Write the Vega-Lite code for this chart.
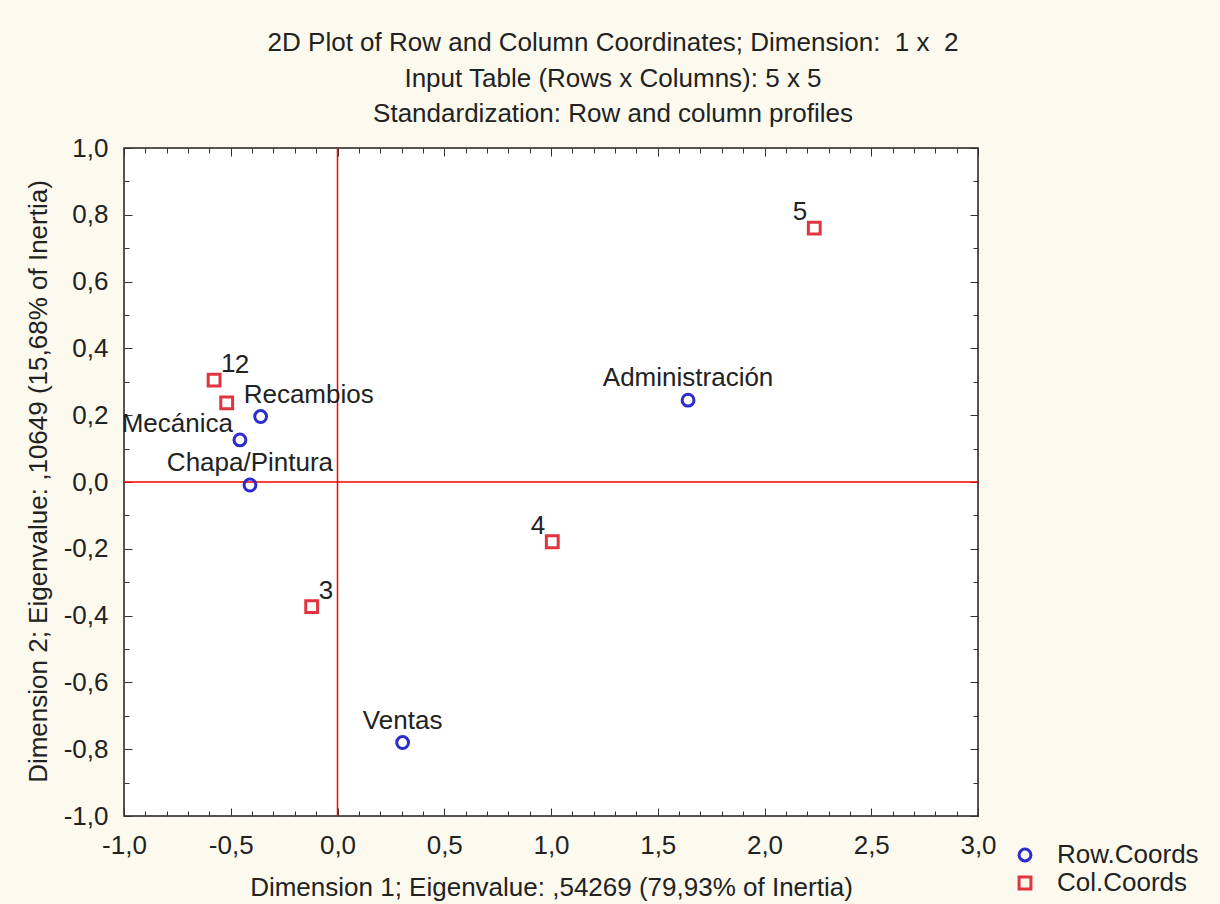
{
  "$schema": "https://vega.github.io/schema/vega-lite/v6.json",
  "width": 854,
  "height": 668,
  "autosize": {"type": "none"},
  "padding": {"left": 124, "top": 148, "right": 242, "bottom": 88},
  "background": "#fcfaee",
  "config": {
    "font": "Liberation Sans",
    "view": {"fill": "#ffffff", "stroke": "#1e1e1e", "strokeWidth": 1.5},
    "axis": {
      "labelFont": "Liberation Sans",
      "titleFont": "Liberation Sans",
      "labelColor": "#222222",
      "titleColor": "#222222",
      "labelFontSize": 26,
      "titleFontSize": 26,
      "titleFontWeight": "normal",
      "domain": false,
      "tickColor": "#333333",
      "tickWidth": 1,
      "gridColor": "#d4d4d4",
      "gridWidth": 1,
      "labelOverlap": false,
      "labelFlush": false
    },
    "legend": {
      "orient": "none",
      "legendX": 888,
      "legendY": 694,
      "labelFont": "Liberation Sans",
      "labelFontSize": 26,
      "labelColor": "#222222",
      "symbolSize": 140,
      "symbolStrokeWidth": 3,
      "labelOffset": 19,
      "rowPadding": 2,
      "padding": 0
    }
  },
  "title": {
    "text": [
      "2D Plot of Row and Column Coordinates; Dimension:\u00a0 1 x\u00a0 2",
      "Input Table (Rows x Columns): 5 x 5",
      "Standardization: Row and column profiles"
    ],
    "font": "Liberation Sans",
    "fontSize": 26,
    "fontWeight": "normal",
    "color": "#222222",
    "lineHeight": 35.5,
    "anchor": "middle",
    "dx": 62,
    "offset": 8
  },
  "datasets": {
    "pts": [
      {"name": "Mecánica", "type": "Row.Coords", "dim1": -0.457, "dim2": 0.126},
      {"name": "Chapa/Pintura", "type": "Row.Coords", "dim1": -0.41, "dim2": -0.009},
      {"name": "Recambios", "type": "Row.Coords", "dim1": -0.36, "dim2": 0.196},
      {"name": "Ventas", "type": "Row.Coords", "dim1": 0.305, "dim2": -0.78},
      {"name": "Administración", "type": "Row.Coords", "dim1": 1.642, "dim2": 0.245},
      {"name": "1", "type": "Col.Coords", "dim1": -0.578, "dim2": 0.305},
      {"name": "2", "type": "Col.Coords", "dim1": -0.519, "dim2": 0.237},
      {"name": "3", "type": "Col.Coords", "dim1": -0.121, "dim2": -0.373},
      {"name": "4", "type": "Col.Coords", "dim1": 1.006, "dim2": -0.179},
      {"name": "5", "type": "Col.Coords", "dim1": 2.233, "dim2": 0.76}
    ],
    "zero": [{"v": 0}]
  },
  "layer": [
    {
      "data": {"name": "pts"},
      "mark": {"type": "point", "opacity": 0},
      "encoding": {
        "x": {
          "field": "dim1", "type": "quantitative",
          "scale": {"domain": [-1, 3], "nice": false, "zero": false},
          "axis": {
            "orient": "top", "title": null, "labels": false, "grid": false,
            "values": [-1,-0.9,-0.8,-0.7,-0.6,-0.5,-0.4,-0.3,-0.2,-0.1,0,0.1,0.2,0.3,0.4,0.5,0.6,0.7,0.8,0.9,1,1.1,1.2,1.3,1.4,1.5,1.6,1.7,1.8,1.9,2,2.1,2.2,2.3,2.4,2.5,2.6,2.7,2.8,2.9,3],
            "tickSize": {"condition": {"test": "abs(datum.value*2 - round(datum.value*2)) < 0.001", "value": -8}, "value": -5}
          }
        },
        "y": {
          "field": "dim2", "type": "quantitative",
          "scale": {"domain": [-1, 1], "nice": false, "zero": false},
          "axis": {
            "orient": "right", "title": null, "labels": false, "grid": false,
            "values": [-1,-0.9,-0.8,-0.7,-0.6,-0.5,-0.4,-0.3,-0.2,-0.1,0,0.1,0.2,0.3,0.4,0.5,0.6,0.7,0.8,0.9,1],
            "tickSize": {"condition": {"test": "abs(datum.value*5 - round(datum.value*5)) < 0.001", "value": -8}, "value": -5}
          }
        }
      }
    },
    {
      "data": {"name": "zero"},
      "mark": {"type": "rule", "color": "#ff0000", "strokeWidth": 1.5},
      "encoding": {"x": {"field": "v", "type": "quantitative", "axis": null}}
    },
    {
      "data": {"name": "zero"},
      "mark": {"type": "rule", "color": "#ff0000", "strokeWidth": 1.5},
      "encoding": {"y": {"field": "v", "type": "quantitative", "axis": null}}
    },
    {
      "data": {"name": "pts"},
      "mark": {"type": "point", "filled": false, "size": 140, "strokeWidth": 3, "opacity": 1},
      "encoding": {
        "x": {
          "field": "dim1", "type": "quantitative",
          "axis": {
            "orient": "bottom",
            "title": "Dimension 1; Eigenvalue: ,54269 (79,93% of Inertia)",
            "titleX": 427, "titleY": 79, "titleBaseline": "alphabetic", "titleAlign": "center",
            "values": [-1,-0.9,-0.8,-0.7,-0.6,-0.5,-0.4,-0.3,-0.2,-0.1,0,0.1,0.2,0.3,0.4,0.5,0.6,0.7,0.8,0.9,1,1.1,1.2,1.3,1.4,1.5,1.6,1.7,1.8,1.9,2,2.1,2.2,2.3,2.4,2.5,2.6,2.7,2.8,2.9,3],
            "labelExpr": "abs(datum.value*2 - round(datum.value*2)) < 0.001 ? (datum.value < -0.001 ? '-' : '') + replace(format(abs(datum.value), '.1f'), '.', ',') : ''",
            "labelBaseline": "alphabetic",
            "labelPadding": 45,
            "tickSize": {"condition": {"test": "abs(datum.value*2 - round(datum.value*2)) < 0.001", "value": -8}, "value": -5},
            "gridOpacity": {"condition": {"test": "abs(datum.value*2 - round(datum.value*2)) < 0.001", "value": 1}, "value": 0}
          }
        },
        "y": {
          "field": "dim2", "type": "quantitative",
          "axis": {
            "orient": "left",
            "title": "Dimension 2; Eigenvalue: ,10649 (15,68% of Inertia)",
            "titleX": -78, "titleY": 333, "titleBaseline": "alphabetic", "titleAlign": "center", "titleAngle": -90,
            "values": [-1,-0.9,-0.8,-0.7,-0.6,-0.5,-0.4,-0.3,-0.2,-0.1,0,0.1,0.2,0.3,0.4,0.5,0.6,0.7,0.8,0.9,1],
            "labelExpr": "abs(datum.value*5 - round(datum.value*5)) < 0.001 ? (datum.value < -0.001 ? '-' : '') + replace(format(abs(datum.value), '.1f'), '.', ',') : ''",
            "labelBaseline": "middle",
            "labelPadding": 24,
            "tickSize": {"condition": {"test": "abs(datum.value*5 - round(datum.value*5)) < 0.001", "value": -8}, "value": -5},
            "gridOpacity": {"condition": {"test": "abs(datum.value*5 - round(datum.value*5)) < 0.001", "value": 1}, "value": 0}
          }
        },
        "color": {
          "field": "type", "type": "nominal",
          "scale": {"domain": ["Row.Coords", "Col.Coords"], "range": ["#2b2bcf", "#e03440"]},
          "legend": {"title": null}
        },
        "shape": {
          "field": "type", "type": "nominal",
          "scale": {"domain": ["Row.Coords", "Col.Coords"], "range": ["circle", "square"]},
          "legend": {"title": null}
        }
      }
    },
    {
      "data": {"name": "pts"},
      "transform": [{"filter": {"field": "name", "oneOf": ["Chapa/Pintura", "Administración", "Ventas"]}}],
      "mark": {"type": "text", "font": "Liberation Sans", "fontSize": 26, "color": "#222222", "align": "center", "baseline": "middle", "dy": -22},
      "encoding": {
        "x": {"field": "dim1", "type": "quantitative", "axis": null},
        "y": {"field": "dim2", "type": "quantitative", "axis": null},
        "text": {"field": "name"}
      }
    },
    {
      "data": {"name": "pts"},
      "transform": [{"filter": {"field": "name", "oneOf": ["Mecánica", "4", "5"]}}],
      "mark": {"type": "text", "font": "Liberation Sans", "fontSize": 26, "color": "#222222", "align": "right", "baseline": "middle", "dx": -7, "dy": -16},
      "encoding": {
        "x": {"field": "dim1", "type": "quantitative", "axis": null},
        "y": {"field": "dim2", "type": "quantitative", "axis": null},
        "text": {"field": "name"}
      }
    },
    {
      "data": {"name": "pts"},
      "transform": [{"filter": {"field": "name", "oneOf": ["1", "3"]}}],
      "mark": {"type": "text", "font": "Liberation Sans", "fontSize": 26, "color": "#222222", "align": "left", "baseline": "middle", "dx": 7, "dy": -16},
      "encoding": {
        "x": {"field": "dim1", "type": "quantitative", "axis": null},
        "y": {"field": "dim2", "type": "quantitative", "axis": null},
        "text": {"field": "name"}
      }
    },
    {
      "data": {"name": "pts"},
      "transform": [{"filter": {"field": "name", "equal": "2"}}],
      "mark": {"type": "text", "font": "Liberation Sans", "fontSize": 26, "color": "#222222", "align": "left", "baseline": "middle", "dx": 8, "dy": -38},
      "encoding": {
        "x": {"field": "dim1", "type": "quantitative", "axis": null},
        "y": {"field": "dim2", "type": "quantitative", "axis": null},
        "text": {"field": "name"}
      }
    },
    {
      "data": {"name": "pts"},
      "transform": [{"filter": {"field": "name", "equal": "Recambios"}}],
      "mark": {"type": "text", "font": "Liberation Sans", "fontSize": 26, "color": "#222222", "align": "left", "baseline": "middle", "dx": -17, "dy": -22},
      "encoding": {
        "x": {"field": "dim1", "type": "quantitative", "axis": null},
        "y": {"field": "dim2", "type": "quantitative", "axis": null},
        "text": {"field": "name"}
      }
    }
  ],
  "resolve": {"axis": {"x": "independent", "y": "independent"}}
}
